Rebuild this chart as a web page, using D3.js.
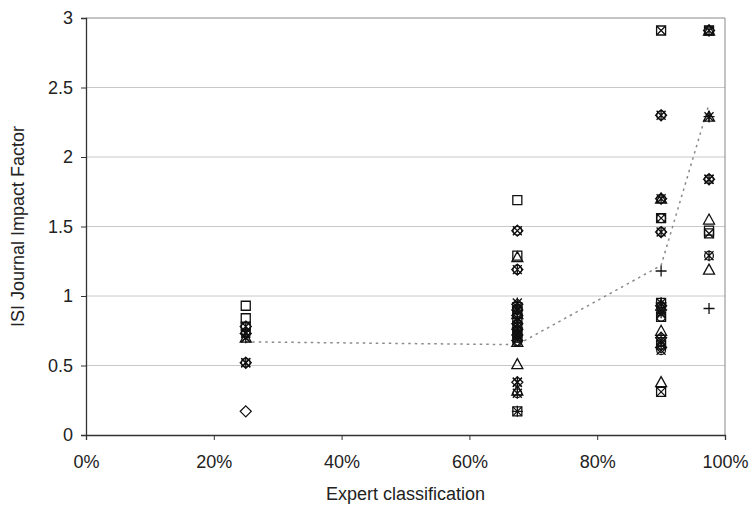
<!DOCTYPE html>
<html>
<head>
<meta charset="utf-8">
<script src="https://cdn.jsdelivr.net/npm/d3@7"></script>
<style>
  body { margin: 0; background: #fff; }
  text { font-family: "Liberation Sans", Arial, sans-serif; fill: #222; }
</style>
</head>
<body>
<svg id="chart" width="751" height="510"></svg>
<script>
// expert classification groups (x) and the journal impact factors per marker series
const xTicks = [0, 0.2, 0.4, 0.6, 0.8, 1];
const yTicks = [0, 0.5, 1, 1.5, 2, 2.5, 3];

const squares = [[0.25,0.93],[0.25,0.84],[0.25,0.78],
  [0.675,1.69],[0.675,1.29],[0.675,0.92],[0.675,0.88],[0.675,0.84],[0.675,0.78],[0.675,0.74],[0.675,0.70],[0.675,0.17],
  [0.9,2.91],[0.9,1.56],[0.9,0.95],[0.9,0.85],[0.9,0.65],[0.9,0.31],
  [0.975,2.91],[0.975,1.47],[0.975,1.45]];
const diamonds = [[0.25,0.78],[0.25,0.73],[0.25,0.52],[0.25,0.17],
  [0.675,1.47],[0.675,1.19],[0.675,0.94],[0.675,0.90],[0.675,0.86],[0.675,0.80],[0.675,0.76],[0.675,0.72],[0.675,0.68],[0.675,0.38],
  [0.9,2.30],[0.9,1.70],[0.9,1.46],[0.9,0.93],[0.9,0.90],[0.9,0.70],[0.9,0.63],
  [0.975,2.91],[0.975,1.84]];
const triangles = [[0.25,0.70],
  [0.675,1.28],[0.675,0.87],[0.675,0.67],[0.675,0.51],[0.675,0.32],
  [0.9,1.70],[0.9,0.75],[0.9,0.38],
  [0.975,2.91],[0.975,2.29],[0.975,1.55],[0.975,1.19]];
const crosses = [[0.25,0.73],[0.25,0.70],[0.25,0.52],
  [0.675,1.47],[0.675,0.92],[0.675,0.82],[0.675,0.77],[0.675,0.73],[0.675,0.69],[0.675,0.38],[0.675,0.17],
  [0.9,2.91],[0.9,1.56],[0.9,0.90],[0.9,0.87],[0.9,0.68],[0.9,0.61],[0.9,0.31],
  [0.975,1.84],[0.975,1.45]];
const stars = [[0.25,0.78],[0.25,0.74],[0.25,0.70],[0.25,0.52],
  [0.675,1.19],[0.675,0.95],[0.675,0.90],[0.675,0.84],[0.675,0.79],[0.675,0.74],[0.675,0.71],[0.675,0.38],[0.675,0.30],
  [0.9,2.30],[0.9,1.70],[0.9,1.46],[0.9,0.95],[0.9,0.88],[0.9,0.65],
  [0.975,2.91],[0.975,2.29],[0.975,1.84],[0.975,1.29]];
const circles = [[0.25,0.73],[0.25,0.52],
  [0.675,1.47],[0.675,1.19],[0.675,0.91],[0.675,0.87],[0.675,0.80],[0.675,0.75],[0.675,0.70],[0.675,0.67],[0.675,0.30],
  [0.9,2.30],[0.9,1.70],[0.9,1.56],[0.9,1.46],[0.9,0.92],[0.9,0.85],[0.9,0.67],[0.9,0.61],
  [0.975,2.91],[0.975,1.84],[0.975,1.29]];
const pluses = [[0.675,0.92],[0.675,0.77],[0.675,0.17],
  [0.9,1.18],[0.9,0.95],[0.9,0.70],
  [0.975,2.29],[0.975,0.91]];

// mean impact factor per group
const meanX = [0.25, 0.675, 0.9, 0.975];
const meanY = [0.67, 0.65, 1.22, 2.38];

const svg = d3.select("#chart");
const mLeft = 86, mRight = 725, mTop = 18, mBottom = 435;

const x = d3.scaleLinear().domain([0, 1]).range([mLeft, mRight]);
const y = d3.scaleLinear().domain([0, 3]).range([mBottom, mTop]);

// gridlines
svg.append("g").selectAll("line")
  .data(yTicks.filter(d => d > 0 && d < 3))
  .enter().append("line")
    .attr("x1", mLeft).attr("x2", mRight)
    .attr("y1", d => y(d)).attr("y2", d => y(d))
    .attr("stroke", "#c8c8c8").attr("stroke-width", 1);

// plot border (top & right)
svg.append("path")
  .attr("d", `M${mLeft},${mTop}H${mRight}V${mBottom}`)
  .attr("fill", "none").attr("stroke", "#888").attr("stroke-width", 1);

// axes
const yAxis = svg.append("g")
  .attr("transform", `translate(${mLeft},0)`)
  .call(d3.axisLeft(y).tickValues(yTicks).tickSize(5).tickPadding(8).tickFormat(d3.format("")));
const xAxis = svg.append("g")
  .attr("transform", `translate(0,${mBottom})`)
  .call(d3.axisBottom(x).tickValues(xTicks).tickSize(5).tickPadding(15).tickFormat(d3.format(".0%")));

[xAxis, yAxis].forEach(a => {
  a.select(".domain").attr("stroke", "#333").attr("stroke-width", 1.3);
  a.selectAll(".tick line").attr("stroke", "#333");
  a.selectAll(".tick text").attr("font-size", 18).attr("fill", "#222")
    .attr("font-family", "'Liberation Sans', Arial, sans-serif");
});

// mean line
const line = d3.line().x(d => x(d[0])).y(d => y(d[1]));
svg.append("path")
  .datum(meanX.map((v, i) => [v, meanY[i]]))
  .attr("d", line)
  .attr("fill", "none")
  .attr("stroke", "#8a8a8a")
  .attr("stroke-width", 1.5)
  .attr("stroke-dasharray", "2.5,4");

// markers
function drawSeries(data, pathFn) {
  svg.append("g").selectAll("path")
    .data(data)
    .enter().append("path")
      .attr("transform", d => `translate(${x(d[0])},${y(d[1])})`)
      .attr("d", pathFn)
      .attr("fill", "none")
      .attr("stroke", "#111")
      .attr("stroke-width", 1.3);
}
const s = 4.5;
drawSeries(squares, () => `M${-s},${-s}H${s}V${s}H${-s}Z`);
drawSeries(diamonds, () => `M0,${-s-1}L${s+1},0L0,${s+1}L${-s-1},0Z`);
drawSeries(triangles, () => `M0,${-s-1}L${s+1},${s}L${-s-1},${s}Z`);
drawSeries(crosses, () => `M${-s},${-s}L${s},${s}M${s},${-s}L${-s},${s}`);
drawSeries(stars, () => `M${-s},${-s}L${s},${s}M${s},${-s}L${-s},${s}M0,${-s-1}V${s+1}`);
drawSeries(circles, () => d3.symbol(d3.symbolCircle, 60)());
drawSeries(pluses, () => `M${-s-1},0H${s+1}M0,${-s-1}V${s+1}`);

// axis titles
svg.append("text")
  .attr("x", (mLeft + mRight) / 2).attr("y", 500)
  .attr("text-anchor", "middle").attr("font-size", 18)
  .text("Expert classification");
svg.append("text")
  .attr("transform", `translate(24,${(mTop + mBottom) / 2}) rotate(-90)`)
  .attr("text-anchor", "middle").attr("font-size", 18)
  .text("ISI Journal Impact Factor");
</script>
</body>
</html>
